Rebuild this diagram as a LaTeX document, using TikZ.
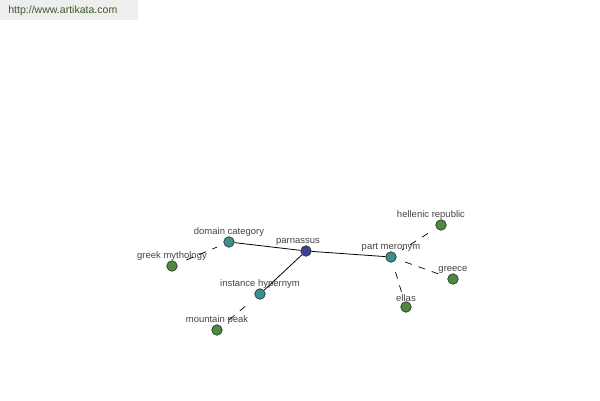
\documentclass[tikz,border=0pt]{standalone}
\usepackage{fontspec}
\setmainfont{Liberation Sans}
\usetikzlibrary{positioning}

\definecolor{rootcol}{HTML}{3F3F98}
\definecolor{relcol}{HTML}{3A8F8F}
\definecolor{leafcol}{HTML}{4C8A3C}
\definecolor{txtcol}{HTML}{444444}
\definecolor{bancol}{HTML}{EEEEEE}
\definecolor{urlcol}{HTML}{3E5A26}

\tikzset{
  word/.style={circle,draw=black!80,line width=0.4pt,minimum size=0.21cm,inner sep=0pt},
  lbl/.style={font=\fontsize{5.4}{5.4}\selectfont,text=txtcol,inner sep=0.5pt},
  link/.style={draw=black,line width=0.45pt},
  weak/.style={draw=black,line width=0.4pt,dash pattern=on 4pt off 4pt,shorten <=0.2cm,shorten >=0.15cm}
}

\begin{document}
\begin{tikzpicture}[x=0.02cm,y=-0.02cm,label distance=-0.7pt]
\useasboundingbox (0,0) rectangle (600,400);
\fill[bancol] (0,0) rectangle (138,20);
\node[font=\fontsize{6}{6}\selectfont,text=urlcol,anchor=west,inner sep=0pt] (url) at (8,11) {http://www.artikata.com};

\node[word,fill=rootcol,label={[lbl,xshift=-0.16cm]above:parnassus}] (parnassus) at (306,251) {};
\node[word,fill=relcol,label={[lbl]above:domain category}] (domain) at (229,242) {};
\node[word,fill=relcol,label={[lbl]above:instance hypernym}] (instance) at (260,294) {};
\node[word,fill=relcol,label={[lbl]above:part meronym}] (part) at (391,257) {};
\node[word,fill=leafcol,label={[lbl]above:greek mythology}] (mythology) at (172,266) {};
\node[word,fill=leafcol,label={[lbl]above:mountain peak}] (peak) at (217,330) {};
\node[word,fill=leafcol,label={[lbl,xshift=-0.2cm]above:hellenic republic}] (hellenic) at (441,225) {};
\node[word,fill=leafcol,label={[lbl]above:greece}] (greece) at (453,279) {};
\node[word,fill=leafcol,label={[lbl]above:ellas}] (ellas) at (406,307) {};

\path[link]
  (parnassus) edge (domain)
  edge (instance)
  edge (part);

\path[weak]
  (mythology) edge (domain)
  (peak) edge (instance)
  (hellenic) edge (part)
  (greece) edge (part)
  (ellas) edge (part);

\end{tikzpicture}
\end{document}
